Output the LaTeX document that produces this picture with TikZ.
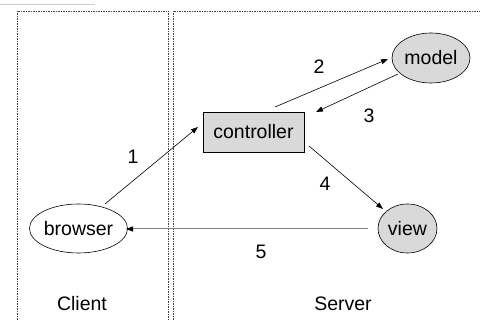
\documentclass[tikz,border=0pt]{standalone}
\usepackage{fontspec}
\setmainfont{Liberation Sans}
\usetikzlibrary{arrows.meta,calc,shapes.geometric}
\definecolor{nodefill}{HTML}{D9D9D9}
\definecolor{framegray}{HTML}{404040}
\begin{document}
\begin{tikzpicture}[x=1pt,y=-1pt,
  every node/.style={font=\fontsize{19.5}{23}\selectfont, text=black},
  oval/.style={ellipse, draw=black, line width=0.6pt, inner sep=0pt},
  box/.style={rectangle, draw=black, line width=0.6pt, fill=nodefill, inner sep=0pt, minimum width=101pt, minimum height=40pt},
  flow/.style={-{Triangle[length=7pt,width=5pt,color=black]}, line width=0.6pt, draw=black},
  zone/.style={draw=framegray, line width=0.6pt, dash pattern=on 1.5pt off 1pt},
  lbl/.style={inner sep=0pt}
]
\useasboundingbox (0,0) rectangle (480,320);
\fill[white] (0,0) rectangle (480,320);
\draw[line width=1pt, color=black!20] (0,5) -- (95,5);
\draw[zone] (17,325) -- (17,11) -- (168,11) -- (168,325);
\draw[zone] (173,325) -- (173,11) -- (485,11);

\node[box] (controller) at (253.5,132) {controller};
\node[oval, fill=nodefill, minimum width=78pt, minimum height=50pt] (model) at (431,58) {model};
\node[oval, fill=white, minimum width=93pt, minimum height=49pt] (browser) at (78.5,228.5) {browser};
\node[oval, fill=nodefill, minimum width=59pt, minimum height=49pt] (view) at (407.5,228.5) {view};

\draw[flow] ($(browser)+(26.5,-24.5)$) -- ($(controller)+(-55.5,-5)$);
\draw[flow] ($(controller)+(21.5,-25)$) -- ($(model)+(-43,1)$);
\draw[flow] ($(model)+(-33,16)$) -- ($(controller)+(62.5,-20)$);
\draw[flow] ($(controller)+(55.5,14)$) -- ($(view)+(-24.5,-19.5)$);
\draw[flow, draw=black!50, line width=1pt] ($(view)+(-39.5,0.5)$) -- ($(browser)+(47.5,0.5)$);

\node[lbl] (n1) at (133,157) {1};
\node[lbl] (n2) at (319,67) {2};
\node[lbl] (n3) at (369,116) {3};
\node[lbl] (n4) at (325,184) {4};
\node[lbl] (n5) at (261,252) {5};
\node[lbl] (client) at (82,304) {Client};
\node[lbl] (server) at (343,304) {Server};
\end{tikzpicture}
\end{document}
